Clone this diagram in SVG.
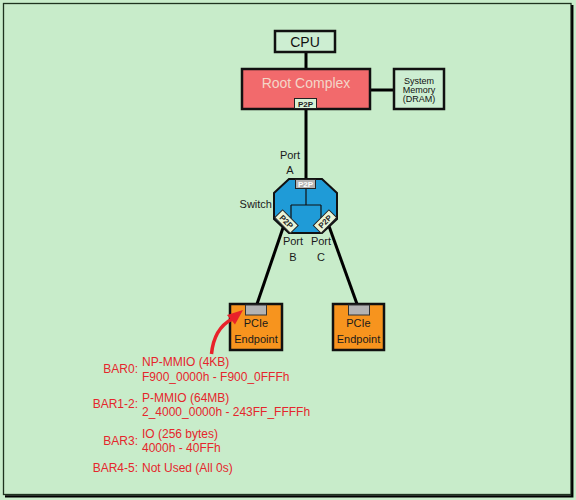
<svg xmlns="http://www.w3.org/2000/svg" width="576" height="500" viewBox="0 0 576 500">
<defs>
<style>
text{font-family:"Liberation Sans",Arial,sans-serif;}
.box{stroke:#111;stroke-width:2.5;}
.lbl{font-size:11px;fill:#1a1a1a;text-anchor:middle;}
.red{font-size:12px;fill:#e5262c;}
.redr{font-size:12px;fill:#e5262c;text-anchor:end;}
.wire{stroke:#000;stroke-width:3;fill:none;}
.p2pt{font-size:8px;font-weight:bold;text-anchor:middle;}
</style>
</defs>
<rect x="0" y="0" width="576" height="500" fill="#c9edcb"/>
<rect x="3.5" y="3.5" width="567.5" height="491" fill="#c8ecca" stroke="#1f331f" stroke-width="1.3"/>
<path d="M572.3,5 V496.3 H5" fill="none" stroke="#000" stroke-width="2.3"/>

<g id="connectors">
<line class="wire" x1="306" y1="52" x2="306" y2="69"/>
<line class="wire" x1="370" y1="90" x2="394" y2="90" stroke-width="2.5"/>
<line class="wire" x1="306" y1="108" x2="306" y2="181"/>
<line class="wire" x1="285" y1="222" x2="257" y2="304"/>
<line class="wire" x1="327.5" y1="222" x2="357" y2="304"/>
</g>

<g id="cpu">
<rect class="box" x="275" y="31" width="60" height="21" fill="#cdeed2"/>
<text x="305" y="46.5" font-size="14" text-anchor="middle" fill="#111">CPU</text>
</g>

<g id="root-complex">
<rect class="box" x="242" y="69" width="128" height="40" fill="#f26a6c"/>
<text x="306" y="87.5" font-size="14" text-anchor="middle" fill="#f4d6c8">Root Complex</text>
<rect x="294.5" y="98.5" width="22" height="10" fill="#d8f2d6" stroke="#222" stroke-width="1"/>
<text class="p2pt" x="305.5" y="106.5" fill="#222">P2P</text>
</g>

<g id="system-memory">
<rect class="box" x="394" y="69" width="50" height="40" fill="#cdeed2"/>
<text x="419" y="84.3" font-size="9" text-anchor="middle" fill="#111">System</text>
<text x="419" y="93" font-size="9" text-anchor="middle" fill="#111">Memory</text>
<text x="419" y="102.3" font-size="9" text-anchor="middle" fill="#111">(DRAM)</text>
</g>

<g id="port-a-label">
<text class="lbl" x="290" y="159">Port</text>
<text class="lbl" x="290" y="174">A</text>
</g>

<g id="switch">
<polygon points="289,179 322,179 337,193 337,219 322,233 289,233 274,219 274,193" fill="#1f9bd7" stroke="#111" stroke-width="2"/>
<path d="M306,188 V205 M291,205 H321 M291,205 V219 M321,205 V219" stroke="#111" stroke-width="1.2" fill="none"/>
<rect x="295.5" y="179.5" width="20" height="9" fill="#b3b3b3" stroke="#222" stroke-width="1"/>
<text class="p2pt" x="305.5" y="187" fill="#fff">P2P</text>
<g transform="translate(286.5,221.5) rotate(45)">
<rect x="-11" y="-5.5" width="22" height="11" fill="#eaf4d6" stroke="#222" stroke-width="1"/>
<text class="p2pt" x="0" y="3" fill="#222">P2P</text>
</g>
<g transform="translate(325,221.5) rotate(-45)">
<rect x="-11" y="-5.5" width="22" height="11" fill="#eaf4d6" stroke="#222" stroke-width="1"/>
<text class="p2pt" x="0" y="3" fill="#222">P2P</text>
</g>
<text x="272" y="207.7" font-size="11" text-anchor="end" fill="#1a1a1a">Switch</text>
</g>

<g id="port-bc-labels">
<text class="lbl" x="293" y="245">Port</text>
<text class="lbl" x="293" y="261">B</text>
<text class="lbl" x="321" y="245">Port</text>
<text class="lbl" x="321" y="261">C</text>
</g>

<g id="endpoint-1">
<rect class="box" x="230" y="304" width="52" height="46" fill="#f7941e"/>
<rect x="245.5" y="305" width="21" height="10" fill="#b3b3b3" stroke="#333" stroke-width="1"/>
<text class="lbl" x="256" y="326.5">PCIe</text>
<text class="lbl" x="256" y="343">Endpoint</text>
</g>

<g id="endpoint-2">
<rect class="box" x="333" y="304" width="51" height="46" fill="#f7941e"/>
<rect x="348.5" y="305" width="21" height="10" fill="#b3b3b3" stroke="#333" stroke-width="1"/>
<text class="lbl" x="358.5" y="326.5">PCIe</text>
<text class="lbl" x="358.5" y="343">Endpoint</text>
</g>

<g id="callout-arrow">
<path d="M211.5,354 C213,338 219,326 232,319" fill="none" stroke="#e8222a" stroke-width="3.5"/>
<polygon points="243,310 227,315 235,324.5" fill="#e8222a"/>
</g>

<g id="bar-list">
<text class="redr" x="138" y="373.3">BAR0:</text>
<text class="red" x="142" y="366">NP-MMIO (4KB)</text>
<text class="red" x="142" y="380.7">F900_0000h - F900_0FFFh</text>
<text class="redr" x="138" y="408">BAR1-2:</text>
<text class="red" x="142" y="401.7">P-MMIO (64MB)</text>
<text class="red" x="142" y="416.3">2_4000_0000h - 243FF_FFFFh</text>
<text class="redr" x="138" y="444.5">BAR3:</text>
<text class="red" x="142" y="437.7">IO (256 bytes)</text>
<text class="red" x="142" y="452.3">4000h - 40FFh</text>
<text class="redr" x="138" y="471.7">BAR4-5:</text>
<text class="red" x="142" y="471.7">Not Used (All 0s)</text>
</g>
</svg>
